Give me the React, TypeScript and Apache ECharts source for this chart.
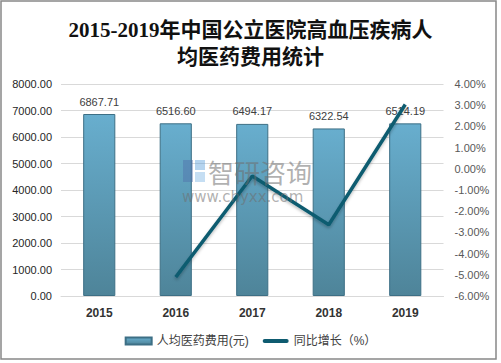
import React, { useEffect, useRef } from "react";
import * as echarts from "echarts";

const categories = ["2015", "2016", "2017", "2018", "2019"];
const costValues = [6867.71, 6516.6, 6494.17, 6322.54, 6514.19];
const growthValues: (number | null)[] = [null, -5.11, -0.34, -2.64, 3.03];
const seriesNames = ["人均医药费用(元)", "同比增长（%）"];
const titleText = "2015-2019年中国公立医院高血压疾病人\n均医药费用统计";
const watermarkName = "智研咨询";
const watermarkUrl = "www.chyxx.com";

export default function App() {
  const ref = useRef<HTMLDivElement>(null);
  useEffect(() => {
    document.body.style.margin = "0";
    if (!ref.current) return;
    const chart = echarts.init(ref.current, undefined, { renderer: "svg" });
    const font = "'Liberation Sans', 'Noto Sans CJK SC', sans-serif";
    const wmFill = "rgba(110,110,110,0.55)";
    chart.setOption({
      animation: false,
      backgroundColor: "#ffffff",
      title: {
        text: titleText,
        left: "center",
        top: 11,
        textStyle: {
          fontFamily: "'Liberation Serif', 'Noto Sans CJK SC', serif",
          fontSize: 21,
          fontWeight: "bold",
          color: "#111111",
          lineHeight: 27,
        },
      },
      graphic: [
        {
          type: "rect",
          shape: { x: 1, y: 1, width: 495, height: 358 },
          style: { fill: "none", stroke: "#888888", lineWidth: 1.5 },
          silent: true,
          z: 0,
        },
        {
          type: "text",
          x: 208,
          y: 158,
          style: {
            text: watermarkName,
            fontSize: 26,
            textBaseline: "top",
            textVerticalAlign: "top",
            fontFamily: "'Noto Sans CJK SC', sans-serif",
            fill: wmFill,
          },
          silent: true,
          z: 100,
        },
        {
          type: "text",
          x: 182,
          y: 189,
          style: {
            text: watermarkUrl,
            fontSize: 15,
            textBaseline: "top",
            textVerticalAlign: "top",
            fontFamily: "'DejaVu Sans', sans-serif",
            fill: wmFill,
          },
          silent: true,
          z: 100,
        },
        {
          type: "rect",
          shape: { x: 183, y: 160, width: 10, height: 22 },
          style: { fill: "rgba(80,110,170,0.45)" },
          silent: true,
          z: 100,
        },
        {
          type: "rect",
          shape: { x: 195, y: 160, width: 10, height: 10 },
          style: { fill: "rgba(90,160,220,0.45)" },
          silent: true,
          z: 100,
        },
        {
          type: "rect",
          shape: { x: 195, y: 172, width: 10, height: 10 },
          style: { fill: "rgba(90,160,220,0.35)" },
          silent: true,
          z: 100,
        },
      ],
      legend: {
        bottom: 11,
        left: "center",
        itemWidth: 26,
        itemHeight: 7,
        itemGap: 14,
        symbolKeepAspect: true,
        textStyle: { fontFamily: font, fontSize: 12, color: "#404040" },
        data: [
          { name: seriesNames[0], icon: "rect" },
          {
            name: seriesNames[1],
            icon: "path://M2,0 L24,0 A2,2 0 0 1 24,4 L2,4 A2,2 0 0 1 2,0 Z",
          },
        ],
      },
      grid: { left: 61, right: 57.5, top: 84, bottom: 67 },
      xAxis: {
        type: "category",
        data: categories,
        axisTick: { show: false },
        axisLine: { lineStyle: { color: "#d9d9d9" } },
        axisLabel: {
          fontFamily: font,
          fontSize: 12,
          fontWeight: "bold",
          color: "#333333",
          margin: 11,
        },
      },
      yAxis: [
        {
          type: "value",
          min: 0,
          max: 8000,
          interval: 1000,
          axisLine: { show: false },
          axisTick: { show: false },
          splitLine: { lineStyle: { color: "#d9d9d9" } },
          axisLabel: {
            fontFamily: font,
            fontSize: 11,
            color: "#262626",
            margin: 9,
            formatter: (v: number) => v.toFixed(2),
          },
        },
        {
          type: "value",
          min: -6,
          max: 4,
          interval: 1,
          axisLine: { show: false },
          axisTick: { show: false },
          splitLine: { show: false },
          axisLabel: {
            fontFamily: font,
            fontSize: 11,
            color: "#595959",
            margin: 11,
            formatter: (v: number) => v.toFixed(2) + "%",
          },
        },
      ],
      series: [
        {
          name: seriesNames[0],
          type: "bar",
          data: costValues,
          barWidth: "42%",
          itemStyle: {
            color: new echarts.graphic.LinearGradient(0, 0, 0, 1, [
              { offset: 0, color: "#68AECE" },
              { offset: 1, color: "#4E8499" },
            ]),
            borderColor: "#3D6F85",
            borderWidth: 1,
          },
          label: {
            show: true,
            position: "top",
            distance: 7,
            fontFamily: font,
            fontSize: 11,
            color: "#404040",
            formatter: (p: any) => p.value.toFixed(2),
          },
        },
        {
          name: seriesNames[1],
          type: "line",
          yAxisIndex: 1,
          data: growthValues,
          showSymbol: false,
          symbol: "none",
          color: "#0E5B70",
          lineStyle: {
            color: "#0E5B70",
            width: 3.5,
            shadowColor: "rgba(0,0,0,0.25)",
            shadowBlur: 3,
            shadowOffsetY: 2,
          },
          z: 3,
        },
      ],
    });
    return () => chart.dispose();
  }, []);
  return <div ref={ref} style={{ width: 501, height: 363 }} />;
}
